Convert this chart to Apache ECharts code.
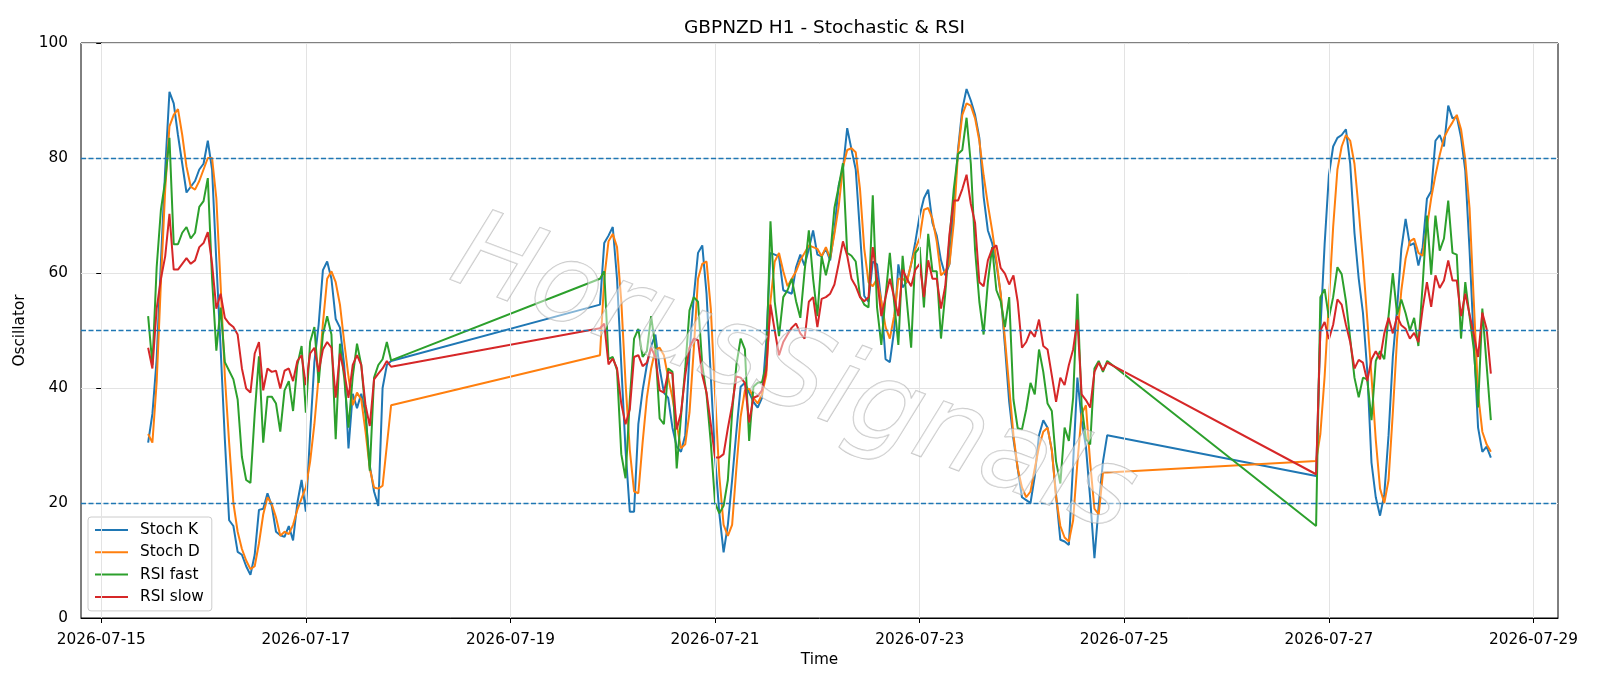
<!DOCTYPE html>
<html>
<head>
<meta charset="utf-8">
<title>GBPNZD H1 - Stochastic & RSI</title>
<script src="https://cdn.jsdelivr.net/npm/echarts@6/dist/echarts.min.js"></script>
<style>
  html, body { margin: 0; padding: 0; background: #fff; }
  #chart { width: 1600px; height: 686px; }
</style>
</head>
<body>
<div id="chart"></div>
<script>
/* DATOS: VELAS DE 1 HORA, TRES TRAMOS (SIN FIN DE SEMANA) */
var segInicio = ['2026-07-15T11:00', '2026-07-19T21:00', '2026-07-26T21:00'];
var segLargo = [58, 120, 42];

var fechasEje = ['2026-07-15', '2026-07-17', '2026-07-19', '2026-07-21',
                 '2026-07-23', '2026-07-25', '2026-07-27', '2026-07-29'];

var nivelesGuia = [20, 50, 80];

var stochK = [
  30.5,35.5,45,62,78,91.5,89.5,84,79,74, 75,76,78,79,83,78,62,47,31,17,
  16,11.5,11,9,7.5,11,18.8,19,21.7,19.5, 15,14.4,14.1,16,13.5,20,24,18.5,32,44.5,
  51,60.5,62,59,52,50.5,44,29.5,39,36.5, 39,35.5,26.5,22,19.5,40,44,44.7,
  54.5,65.2,66.5,68,59,44,29.2,18.5,18.5,33.7, 39.6,44,47.3,49.3,43.4,39.2,38.3,33.1,29.8,28.9,
  31.8,46,55.8,63.5,64.8,56.4,42,27.9,18.2,11.4, 16.2,24,32.4,40.2,40.9,39.2,37.6,36.6,38.3,48,
  63.5,63.2,62.9,57,56.7,56.4,61,63.2,61.3,64.2, 67.4,63.2,62.9,64.2,62.2,67.4,75.2,78.1,85.2,81.5,
  78,67,56,55,62,61.5,55,45,44.5,50, 61.5,57.5,58.5,61.5,65.5,70,73,74.5,68.7,66.5,
  62.2,59.6,61.6,72,81.5,88.5,92,90,87.5,83.5, 73.3,67.4,65.2,61.6,56.4,47.3,37.6,31.1,26,21,
  20.5,20,24.7,31.8,34.4,33.1,29.2,21.4,13.6,13.3, 12.7,27,41.8,34.4,29.8,20.8,10.4,19.5,27.2,31.8,
  24.7,50,65,77,82,83.5,84,85,79,67, 59,53,43,27,21,17.8,21.5,31.8,45.4,53.8,
  64.2,69.4,64.8,65.2,61.3,64.5,72.9,74.2,83,84, 82,89.1,86.9,87.2,83.6,77.8,64,48,33.1,28.9,
  29.8,27.9
];

var stochD = [
  32,30.5,41,58.4,74.5,85.5,87.5,88.5,84,78.5, 75,74.5,76,78,80,80,73,58,42,30.5,
  20,15,12,10,8.5,9,13,18,21,19.8, 17.5,14.3,15,14.6,16.2,18.8,20.8,22.7,27.2,33.7,
  42,51.2,59,60.3,58.4,54.5,48,42,37,39.2, 38,32.4,26,22.7,22.5,23,30,37,
  45.7,59,65.5,66.8,64.5,55.1,40.9,29.2,22,21.7, 30.5,38.3,43.4,46.7,47,45.7,41.8,38.3,33.7,29.5,
  30.2,35.7,46.7,59,61.6,62,53.8,38.9,24.7,16.2, 14.3,16.2,26,35,39.6,39.9,38.3,37.3,38.9,42.2,
  55.1,62,63.5,60.3,57.7,59,60.3,62.2,63.5,64.8, 64.5,64.2,62.9,64.5,62.6,66.8,71.6,78.4,81.4,81.7,
  81,74.6,64.2,58.4,57.7,59,55.1,50.6,48.6,52.5, 59,59,58.4,61.6,64.2,66.1,71,71.3,69.4,65.5,
  59.6,60.3,61.6,68.7,81,87.5,89.5,89.1,86.9,83, 77,71.9,67.4,62.2,56.4,48.6,40.2,31.8,26,22.7,
  21,22,26,29.8,32.4,33.1,29.2,21,16,14, 13.3,17,27,35.5,37,27,19,18,25.3,25.3,
  27.3,32,42,55,68,78,82,84,83,79, 71,62,52,42,31,22.5,20,24,35.7,48.6,
  57,62.5,65.5,66,63.5,63,68,73,77,80.5, 83.5,85,86.2,87.5,85,79.7,71.3,55,39,32.4,
  30.2,28.9
];

var rsiFast = [
  52.5,44,61,71,76,83.5,65,65,67,68, 66,67,71.5,72.5,76.5,59,46.5,54,44.5,43,
  41.5,38,28,24,23.5,35.5,45.5,30.5,38.5,38.5, 37.3,32.4,39.6,41.2,36,44,47.3,35.7,48,50.6,
  40.9,49.3,52.5,49.3,31.1,47.7,41.8,33.1,42,47.7, 44,35.7,25.6,41.8,44,45,48,44.8,
  59,60.3,45,45.4,43.1,28.5,24.3,38,48.6,50.3, 45.4,46.4,52.5,47,34.7,33.7,43.4,42.8,26,35,
  43.4,53.5,55.8,55,44,38.9,30.5,20,18.2,19.5, 24,35.7,44,48.6,46.7,30.8,40.2,40.9,41,44,
  69,55,49,55.8,57,59,55.1,52.2,60.3,67.4, 59,52.5,62.9,59.6,62.9,71.3,75,79.1,63.5,63,
  62,56,54.5,54,73.5,54,47.5,56,63.5,55, 47.5,63,55,47,63.5,64.5,54,66.8,60.3,60.3,
  48.6,56.4,66,74.6,80.7,81.4,87,79,64,55, 49.3,58.4,64.5,57,55.1,50.6,55.8,38,33,32.8,
  36.3,40.9,38.9,46.7,42.8,37.3,36,27.2,23.4,33.1, 30.8,38.3,56.4,37,31.1,30.2,43.4,44.7,42.8,44.7,
  16,55.8,57.2,52.2,55.8,61,59.8,55.1,48.6,41.8, 38.4,41.8,41.5,34.4,44.7,46.4,45,52.5,60,52.8,
  55.4,53,50,52.2,47.3,58,70,59.7,70,63.9, 66,72.6,63.5,63.2,48.6,58.4,52.5,46.7,36.6,53.8,
  44,34.4
];

var rsiSlow = [
  47,43.4,53.8,59,62.9,70.3,60.6,60.6,61.6,62.6, 61.6,62.2,64.5,65.2,67.1,61.6,53.8,56.4,52.2,51.2,
  50.6,49.3,43.4,39.9,39.2,46,48,39.6,43.4,42.8, 43,39.9,43,43.4,41.2,44.7,45.7,40.5,46,47,
  42.8,46.7,48,47,38.3,46,42.8,38.3,44,45.7, 44,37,33.4,41.5,42.5,43.4,44.7,43.7,
  50.4,51.2,44.1,45.1,43.4,37.3,33.7,36.3,45.4,45.7, 43.8,44.4,47,45.4,39.6,39.2,42.8,42.5,32.8,35.7,
  42.2,47,48.6,48.3,42.2,39.2,33.7,27.9,27.9,28.5, 33,37,42,41.8,40.9,34,38.3,38.6,39.6,43,
  54.5,50,45.7,48,49.3,50.5,51.2,49.5,48.6,55, 55.8,50.6,55.5,55.8,56.4,58,61.6,65.5,63,59,
  57.7,55.8,55.1,55.8,64.5,59,52.5,55.8,59,55.8, 52.5,60.6,59,57.7,60.6,61.6,55.8,62.2,59,59,
  53.8,57.7,66.8,72.6,72.6,74.6,77.1,72,68.7,58.4, 57.7,62.2,64.2,64.8,60.9,59.9,58,59.6,55,47,
  48,49.9,48.9,51.9,47.3,46.7,42.2,37.6,41.8,40.5, 44,46.7,51.9,38.9,37.9,36.6,42.8,44.4,43.1,44.4,
  25,50,51.5,48.5,51,55.4,54.5,51,48,43.4, 44.9,44.4,41.2,45,46.4,45,49.5,52.2,49.5,52.5,
  50.9,50.3,48.6,49.6,48,53.8,58.4,54.1,59.6,57.4, 58.7,62.2,58.7,58.7,52.5,56.4,52.8,49.3,45.4,53.1,
  50.3,42.5
];

/* FUNCIONES DE FECHA (EJE X EN HORAS DESDE EL 15/07) */
var origen = Date.UTC(2026, 6, 15);
function aHoras(txt) {
  return (new Date(txt + (txt.length > 10 ? ':00Z' : 'T00:00:00Z')).getTime() - origen) / 3600000;
}
function aFecha(h) {
  return new Date(origen + h * 3600000).toISOString().substr(0, 10);
}

var horas = [];
segInicio.forEach(function (s, i) {
  var h0 = aHoras(s);
  for (var k = 0; k < segLargo[i]; k++) horas.push(h0 + k);
});

[stochK, stochD, rsiFast, rsiSlow].forEach(function (arr) {
  if (arr.length !== horas.length) throw new Error('largo ' + arr.length + ' != ' + horas.length);
});

function pares(valores) {
  return valores.map(function (v, i) { return [horas[i], v]; });
}

var ticksX = fechasEje.map(aHoras);
var rango = horas[horas.length - 1] - horas[0];
var minX = horas[0] - 0.05 * rango;
var maxX = horas[horas.length - 1] + 0.05 * rango;

var fuente = 'DejaVu Sans';
var tam = 15.3;

function serie(nombre, valores, color) {
  return {
    name: nombre, type: 'line', data: pares(valores),
    symbol: 'none', showSymbol: false, z: 3,
    lineStyle: { width: 2, color: color }, itemStyle: { color: color },
    emphasis: { disabled: true }
  };
}

var chart = echarts.init(document.getElementById('chart'));

chart.setOption({
  animation: false,
  backgroundColor: '#ffffff',
  title: {
    text: 'GBPNZD H1 - Stochastic & RSI',
    left: 819.5, top: 14, textAlign: 'center',
    textStyle: { fontFamily: fuente, fontSize: 18.5, fontWeight: 'normal', color: '#000' }
  },
  grid: { left: 81, right: 42, top: 43, bottom: 68, show: true, borderColor: '#000', borderWidth: 1, backgroundColor: 'transparent' },
  legend: {
    data: ['Stoch K', 'Stoch D', 'RSI fast', 'RSI slow'],
    icon: 'path://M0,0H33V2H0Z',
    orient: 'vertical', left: 88, top: 517,
    itemWidth: 33, itemHeight: 16, itemGap: 6.3,
    padding: [5, 8, 6, 7],
    backgroundColor: 'rgba(255,255,255,0.8)', borderColor: '#cccccc', borderWidth: 1, borderRadius: 3,
    textStyle: { fontFamily: fuente, fontSize: tam, lineHeight: 16, color: '#000', padding: [0, 0, 0, 7] }
  },
  xAxis: {
    type: 'value', min: minX, max: maxX,
    name: 'Time', nameLocation: 'middle', nameGap: 30.5,
    nameTextStyle: { fontFamily: fuente, fontSize: tam, color: '#000' },
    axisLine: { show: true, onZero: false, lineStyle: { color: '#000', width: 1 } },
    axisTick: { show: true, length: 5, customValues: ticksX, lineStyle: { color: '#000' } },
    axisLabel: {
      customValues: ticksX, margin: 15,
      fontFamily: fuente, fontSize: tam, color: '#000',
      formatter: function (v) { return aFecha(v); }
    },
    splitLine: { show: false }
  },
  yAxis: {
    type: 'value', min: 0, max: 100, interval: 20,
    name: 'Oscillator', nameLocation: 'middle', nameGap: 40,
    nameTextStyle: { fontFamily: fuente, fontSize: tam, color: '#000' },
    axisLine: { show: true, lineStyle: { color: '#000', width: 1 } },
    axisTick: { show: true, length: 5, lineStyle: { color: '#000' } },
    axisLabel: { margin: 13, fontFamily: fuente, fontSize: tam, color: '#000' },
    splitLine: { show: true, lineStyle: { color: '#e3e3e3', width: 1 } }
  },
  graphic: [{
    type: 'text', x: 793, y: 378, rotation: -0.36, z: 100, silent: true,
    style: {
      text: 'HorusSignals', x: 0, y: 0, align: 'center', verticalAlign: 'middle',
      font: 'italic 110px "DejaVu Sans"',
      fill: 'rgba(255,255,255,0.45)', stroke: 'rgba(160,160,160,0.6)', lineWidth: 1.3,
      shadowColor: 'rgba(0,0,0,0.18)', shadowBlur: 3, shadowOffsetX: 3, shadowOffsetY: 3
    }
  }],
  series: [
    {
      name: 'lineas', type: 'line', data: [], z: 1, silent: true,
      markLine: {
        silent: true, symbol: 'none', animation: false, label: { show: false },
        data: ticksX.map(function (h) {
          return { xAxis: h, lineStyle: { color: '#e3e3e3', width: 1, type: 'solid' } };
        }).concat(nivelesGuia.map(function (n) {
          return { yAxis: n, lineStyle: { color: '#1f77b4', width: 1.4, type: [5, 2.5] } };
        }))
      }
    },
    serie('Stoch K', stochK, '#1f77b4'),
    serie('Stoch D', stochD, '#ff7f0e'),
    serie('RSI fast', rsiFast, '#2ca02c'),
    serie('RSI slow', rsiSlow, '#d62728')
  ]
});
</script>
</body>
</html>
